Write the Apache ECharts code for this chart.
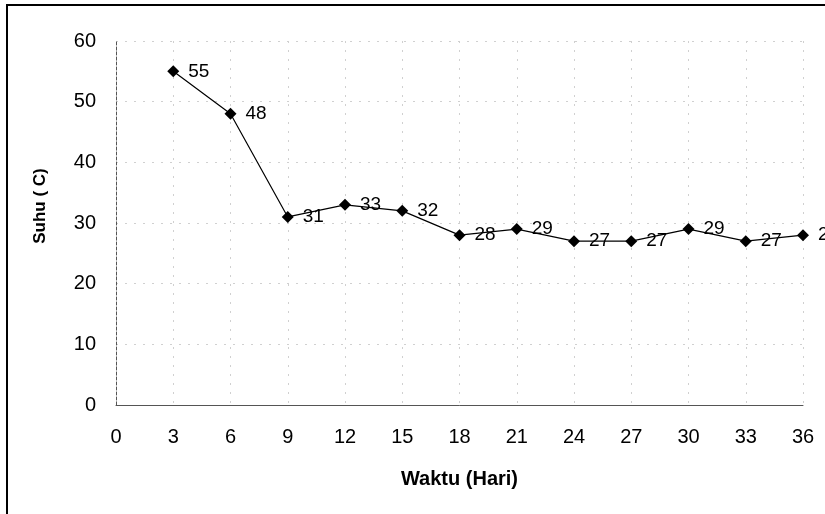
<!DOCTYPE html>
<html><head><meta charset="utf-8">
<script src="https://cdn.jsdelivr.net/npm/echarts@6/dist/echarts.min.js"></script>
<style>html,body{margin:0;padding:0;background:#fff}#c{width:825px;height:514px}</style>
</head><body><div id="c"></div>
<script>
const days = [3, 6, 9, 12, 15, 18, 21, 24, 27, 30, 33, 36];
const suhu = [55, 48, 31, 33, 32, 28, 29, 27, 27, 29, 27, 28];
const xTitle = 'Waktu (Hari)';
const yTitle = 'Suhu ( C)';
const F = 'Liberation Sans, Arial, sans-serif';
const chart = echarts.init(document.getElementById('c'));
chart.setOption({
  animation: false,
  backgroundColor: '#fff',
  grid: { left: 116, right: 22, top: 41, bottom: 109, containLabel: false },
  graphic: [
    { type: 'rect', shape: { x: 7, y: 5, width: 840, height: 540 }, style: { fill: 'none', stroke: '#000', lineWidth: 2 }, silent: true },
    { type: 'text', x: 40, y: 206, rotation: Math.PI / 2, style: { text: yTitle, font: 'bold 17px ' + F, fill: '#000', align: 'center', verticalAlign: 'middle' }, silent: true }
  ],
  xAxis: {
    type: 'value', min: 0, max: 36, interval: 3,
    name: xTitle, nameLocation: 'middle', nameGap: 64,
    nameTextStyle: { fontFamily: F, fontSize: 20, fontWeight: 'bold', color: '#000' },
    axisLine: { lineStyle: { color: '#555', width: 1 } },
    axisTick: { show: false },
    axisLabel: { fontFamily: F, fontSize: 20, color: '#000', margin: 22 },
    splitLine: { show: true, lineStyle: { color: '#d0d0d0', type: [2, 7], width: 1 } }
  },
  yAxis: {
    type: 'value', min: 0, max: 60, interval: 10,
    axisLine: { show: true, lineStyle: { color: '#555', width: 1, type: [3, 2] } },
    axisTick: { show: false },
    axisLabel: { fontFamily: F, fontSize: 20, color: '#000', margin: 20 },
    splitLine: { show: true, lineStyle: { color: '#d0d0d0', type: [2, 7], width: 1 } }
  },
  series: [{
    type: 'line',
    data: days.map((d, i) => [d, suhu[i]]),
    symbol: 'diamond', symbolSize: 12,
    itemStyle: { color: '#000' },
    lineStyle: { color: '#000', width: 1.2 },
    label: { show: true, position: 'right', distance: 9, fontFamily: F, fontSize: 19, color: '#000' }
  }]
});
</script></body></html>
